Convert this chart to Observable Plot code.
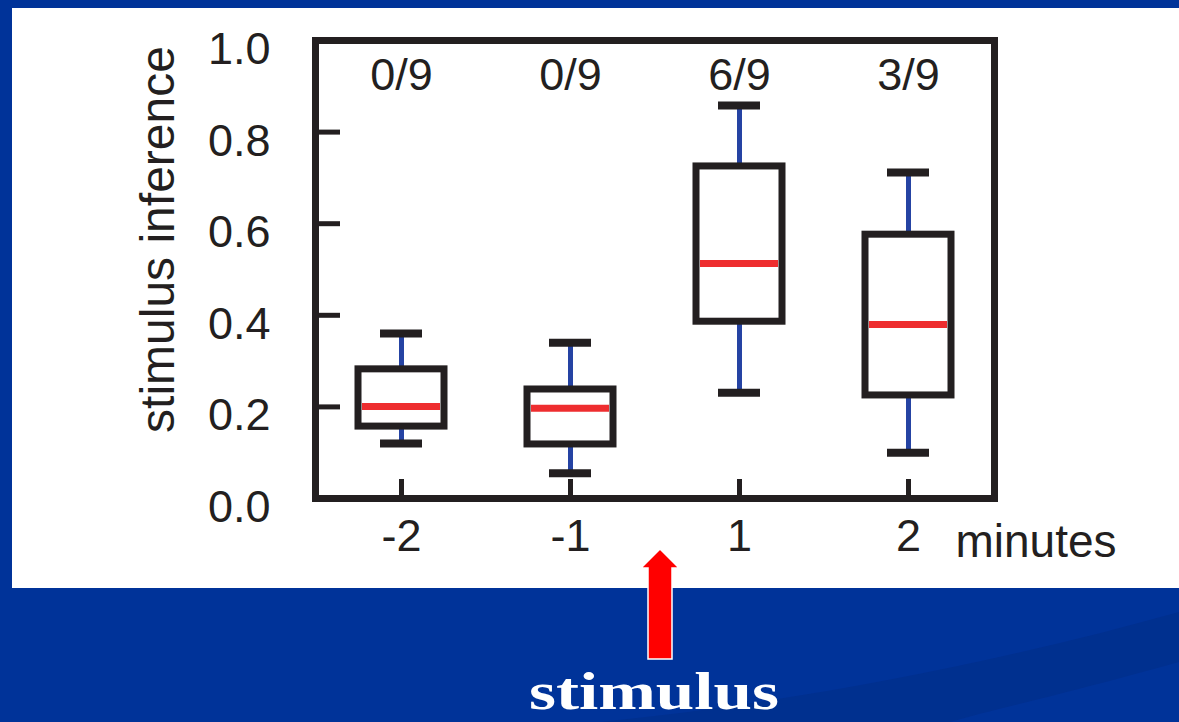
<!DOCTYPE html>
<html>
<head>
<meta charset="utf-8">
<script src="https://cdn.jsdelivr.net/npm/d3@7"></script>
<script src="https://cdn.jsdelivr.net/npm/@observablehq/plot@0.6"></script>
<style>
  html, body { margin: 0; padding: 0; }
  body { width: 1179px; height: 722px; overflow: hidden; background: #003399; position: relative; }
  #bg { position: absolute; left: 0; top: 0; }
  #panel { position: absolute; left: 12px; top: 8px; width: 1167px; height: 580px; background: white; }
  #overlay { position: absolute; left: 0; top: 0; pointer-events: none; }
</style>
</head>
<body>
<svg id="bg" width="1179" height="722">
  <path d="M 600 722 C 800 702, 1000 662, 1179 612 L 1179 662 C 1080 690, 1000 708, 950 722 Z" fill="#00308f"/>
</svg>
<div id="panel"></div>
<svg id="overlay" width="1179" height="722">
  <polygon points="660,549 679,568 672,568 672,659 648,659 648,568 641,568" fill="#ff0000" stroke="white" stroke-width="1.5"/>
  <text x="529" y="709" fill="white" font-family="'Liberation Serif', 'Times New Roman', serif" font-weight="bold" font-size="52" textLength="250" lengthAdjust="spacingAndGlyphs">stimulus</text>
</svg>
<script>
// ---- data ----
const categories = ["-2", "-1", "1", "2"];
const whiskerLow  = [0.12, 0.055, 0.231, 0.10];
const quartile1   = [0.157, 0.118, 0.386, 0.225];
const medians     = [0.201, 0.197, 0.513, 0.38];
const quartile3   = [0.282, 0.238, 0.725, 0.576];
const whiskerHigh = [0.36, 0.34, 0.858, 0.712];
const counts = ["0/9", "0/9", "6/9", "3/9"];
const yTicks = [0, 0.2, 0.4, 0.6, 0.8, 1.0];
const yLabel = "stimulus inference";
const xLabel = "minutes";

const rows = categories.map((c, i) => ({
  cat: c, lo: whiskerLow[i], q1: quartile1[i], med: medians[i], q3: quartile3[i], hi: whiskerHigh[i], n: counts[i]
}));

const ink = "#231f20";
const blue = "#2543a3";
const red = "#ee2d2f";
const frameW = 1167 - 303 - 185;
const frameH = 580 - 32 - 90;

const chart = Plot.plot({
  width: 1167,
  height: 580,
  marginLeft: 303,
  marginRight: 185,
  marginTop: 32,
  marginBottom: 90,
  x: {type: "band", domain: categories, paddingInner: 0.49, paddingOuter: 0.245},
  y: {domain: [0, 1]},
  style: {fontFamily: "'Liberation Sans', Arial, Helvetica, sans-serif", fontSize: "45px", color: ink, background: "white", overflow: "visible"},
  marks: [
    Plot.axisY({ticks: yTicks, tickSize: 0, tickPadding: 45, tickFormat: d3.format(".1f"), dy: 9, fontSize: 45, label: null, fill: ink}),
    Plot.axisX({tickSize: 0, tickPadding: 21, fontSize: 45, label: null, fill: ink}),
    Plot.ruleY(yTicks, {y: d => d, insetRight: frameW - 25, stroke: ink, strokeWidth: 5}),
    Plot.ruleX(categories, {x: d => d, insetTop: frameH - 19, stroke: ink, strokeWidth: 5}),
    Plot.ruleX(rows, {x: "cat", y1: "lo", y2: "hi", stroke: blue, strokeWidth: 5}),
    Plot.barY(rows, {x: "cat", y1: "q1", y2: "q3", fill: "white", stroke: ink, strokeWidth: 7}),
    Plot.tickY(rows, {x: "cat", y: "med", stroke: red, strokeWidth: 7, insetLeft: 4, insetRight: 4}),
    Plot.tickY(rows, {x: "cat", y: "hi", stroke: ink, strokeWidth: 8, insetLeft: 22, insetRight: 22}),
    Plot.tickY(rows, {x: "cat", y: "lo", stroke: ink, strokeWidth: 8, insetLeft: 22, insetRight: 22}),
    Plot.text(rows, {x: "cat", text: "n", frameAnchor: "top", lineAnchor: "middle", dy: 35, fontSize: 45, fill: ink}),
    Plot.text([xLabel], {frameAnchor: "bottom-right", textAnchor: "start", lineAnchor: "middle", dx: -39, dy: 44, fontSize: 46, fill: ink}),
    Plot.text([yLabel], {frameAnchor: "left", textAnchor: "middle", lineAnchor: "middle", rotate: -90, dx: -157, dy: -30, fontSize: 48, fill: ink}),
    Plot.frame({stroke: ink, strokeWidth: 7})
  ]
});
document.getElementById("panel").appendChild(chart);
</script>
</body>
</html>
